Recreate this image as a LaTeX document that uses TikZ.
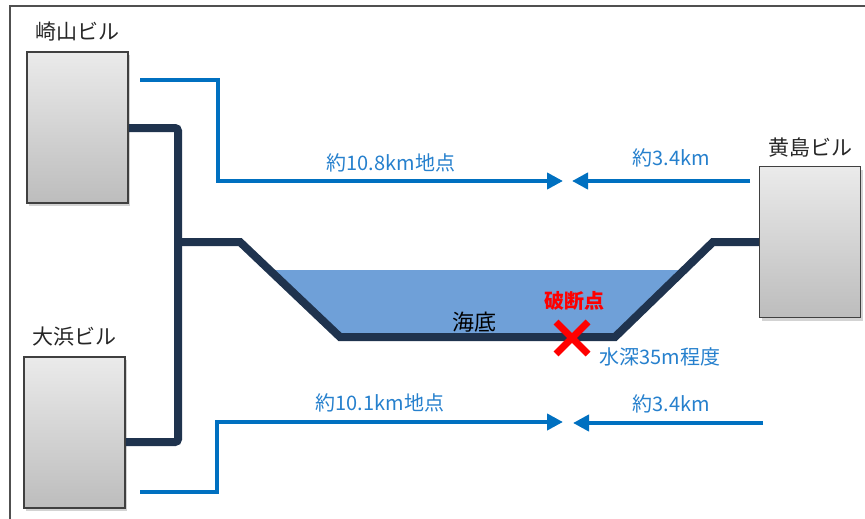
\documentclass[tikz,border=0pt]{standalone}
\usepackage{fontspec}
\setmainfont{Noto Sans CJK JP}
\usepackage{xcolor}
\usetikzlibrary{arrows.meta, positioning, shadows, calc}
\definecolor{cablenavy}{RGB}{31, 51, 78}
\definecolor{routeblue}{RGB}{0, 112, 192}
\definecolor{textblue}{RGB}{38, 128, 205}
\definecolor{seablue}{RGB}{111, 160, 216}
\definecolor{framegray}{RGB}{80, 80, 80}
\tikzstyle{building} = [rectangle, minimum width=101pt, minimum height=151pt, draw=black!75, line width=1.5pt, top color=black!8, bottom color=black!26, drop shadow={shadow xshift=2pt, shadow yshift=-3pt, opacity=0.35}]
\tikzstyle{bname} = [font=\fontsize{21}{21}\selectfont, text=black!85, inner sep=0pt]
\tikzstyle{cable} = [line width=8pt, cablenavy, rounded corners=3pt]
\tikzstyle{route} = [line width=4pt, routeblue]
\tikzstyle{arrow} = [route, -{Triangle[length=16pt, width=16pt]}]
\tikzstyle{dist} = [font=\fontsize{20}{20}\selectfont, text=textblue, inner sep=0pt]

\begin{document}
\begin{tikzpicture}[x=1pt, y=-1pt]
\useasboundingbox (0,0) rectangle (865,519);

% frame
\draw [framegray, line width=1.5pt] (10,519) -- (10,6) -- (865,6);

% buildings
\node (sakiyama) [building] at (77.5,127.5) {};
\node (ohama) [building] at (74.5,432.5) {};
\node (kishima) [building] at (810,242) {};
\node (sakiyama_name) [bname, above=10pt of sakiyama] {崎山ビル};
\node (ohama_name) [bname, above=10pt of ohama] {大浜ビル};
\node (kishima_name) [bname, above=8pt of kishima] {黄島ビル};

% seabed
\coordinate (trunk_top) at (178,128);
\coordinate (junction) at (178,242);
\coordinate (trunk_bot) at (178,442);
\coordinate (slope_l) at (240,242);
\coordinate (bed_l) at (340,337);
\coordinate (bed_r) at (615,337);
\coordinate (slope_r) at (713,242);
\fill [seablue] (269.5,270) -- (684,270) -- (bed_r) -- (bed_l) -- cycle;
\node (seabed) [font=\fontsize{22}{22}\selectfont, inner sep=0pt] at (474,322) {海底};

% cable
\draw [cable] (sakiyama.east |- trunk_top) -- (trunk_top) -- (trunk_bot) -- (ohama.east |- trunk_bot);
\draw [cable, rounded corners=0pt] (junction) -- (slope_l) -- (bed_l) -- (bed_r) -- (slope_r) -- (kishima.west);

% upper route
\coordinate (up_start) at (140,80);
\coordinate (up_end) at (563,181);
\coordinate (up_right) at (750,181);
\coordinate (up_meet) at (572,181);
\draw [arrow] (up_start) -- (218,80) -- (218,181) -- (up_end);
\draw [arrow] (up_right) -- (up_meet);
\node (up_left_dist) [dist] at (391,163) {約10.8km地点};
\node (up_right_dist) [dist] at (671,158) {約3.4km};

% lower route
\coordinate (low_start) at (140,492);
\coordinate (low_end) at (563,422);
\coordinate (low_right) at (763,423);
\coordinate (low_meet) at (573,423);
\draw [arrow] (low_start) -- (217,492) -- (217,422) -- (low_end);
\draw [arrow] (low_right) -- (low_meet);
\node (low_left_dist) [dist] at (380,403) {約10.1km地点};
\node (low_right_dist) [dist] at (671,404) {約3.4km};

% break point
\coordinate (break) at (572,338);
\draw [red, line width=7pt] ($(break)+(-16,-16)$) -- ($(break)+(16,16)$);
\draw [red, line width=7pt] ($(break)+(-16,16)$) -- ($(break)+(16,-16)$);
\node (break_name) [font=\fontsize{20}{20}\selectfont\bfseries, text=red, inner sep=0pt] at (574,301) {破断点};
\node (depth) [dist] at (660,357) {水深35m程度};

\end{tikzpicture}
\end{document}
